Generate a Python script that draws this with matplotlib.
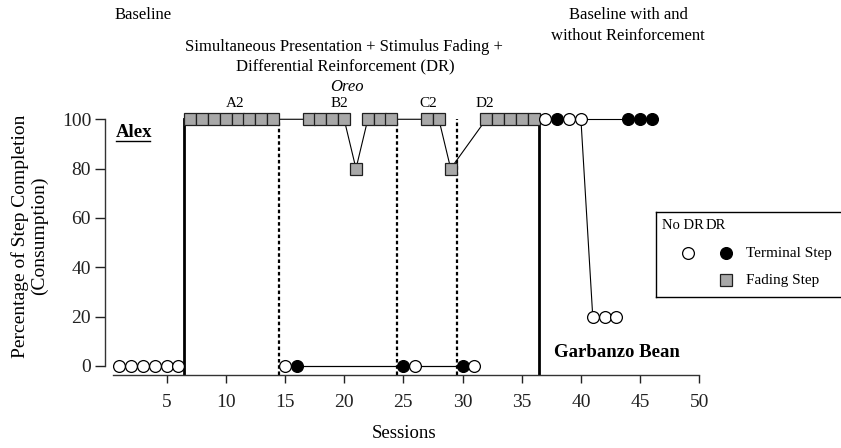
import matplotlib.pyplot as plt

plt.rcParams['font.family'] = ['Liberation Serif', 'DejaVu Serif']

# Datos (sesion, porcentaje)
linea_base_x = [1, 2, 3, 4, 5, 6]
linea_base_y = [0, 0, 0, 0, 0, 0]

desvanecimiento_x = [7, 8, 9, 10, 11, 12, 13, 14,
                     17, 18, 19, 20, 21, 22, 23, 24,
                     27, 28, 29,
                     32, 33, 34, 35, 36]
desvanecimiento_y = [100, 100, 100, 100, 100, 100, 100, 100,
                     100, 100, 100, 100, 80, 100, 100, 100,
                     100, 100, 80,
                     100, 100, 100, 100, 100]

terminal_sin_dr_x = [15, 26, 31]
terminal_sin_dr_y = [0, 0, 0]
terminal_dr_x = [16, 25, 30]
terminal_dr_y = [0, 0, 0]

final_sin_dr_x = [37, 39, 40, 41, 42, 43]
final_sin_dr_y = [100, 100, 100, 20, 20, 20]
final_dr_x = [38, 44, 45, 46]
final_dr_y = [100, 100, 100, 100]

cambios_fase = [6.5, 36.5]
cambios_subfase = [14.5, 24.5, 29.5]
subfases = ['A2', 'B2', 'C2', 'D2']
subfases_x = [10.8, 19.6, 27.1, 31.9]

W, H = 841, 448
fig = plt.figure(figsize=(W / 100, H / 100), dpi=100)
ax = fig.add_axes([105 / W, 73 / H, 594.3 / W, 265.6 / H])
ax.set_xlim(-0.2, 50)
ax.set_ylim(-3.65, 104)

# lineas de cambio de fase
for xf in cambios_fase:
    ax.plot([xf, xf], [-3.65, 100], color='black', lw=2.0, zorder=1)
for xf in cambios_subfase:
    ax.plot([xf, xf], [-3.65, 100], color='black', lw=1.6,
            linestyle=(0, (1.6, 1.2)), zorder=1)

ms = 8.5
mew = 0.9
ax.plot(linea_base_x, linea_base_y, color='black', lw=0.8, marker='o',
        ms=ms, mfc='white', mec='black', mew=mew, zorder=3, clip_on=False)
ax.plot(desvanecimiento_x, desvanecimiento_y, color='black', lw=0.8, marker='s',
        ms=ms, mfc='#a8a8a8', mec='#202020', mew=mew, zorder=3, clip_on=False)
ax.plot(terminal_dr_x, terminal_dr_y, color='black', lw=0.8, marker='o',
        ms=ms, mfc='black', mec='black', mew=mew, zorder=2, clip_on=False)
ax.plot(terminal_sin_dr_x, terminal_sin_dr_y, color='black', lw=0.8, marker='o',
        ms=ms, mfc='white', mec='black', mew=mew, zorder=3, clip_on=False)
ax.plot(final_dr_x, final_dr_y, color='black', lw=0.8, marker='o',
        ms=ms, mfc='black', mec='black', mew=mew, zorder=2, clip_on=False)
ax.plot(final_sin_dr_x, final_sin_dr_y, color='black', lw=0.8, marker='o',
        ms=ms, mfc='white', mec='black', mew=mew, zorder=3, clip_on=False)

# ejes
ax.spines['top'].set_visible(False)
ax.spines['right'].set_visible(False)
ax.spines['left'].set_bounds(0, 100)
ax.spines['bottom'].set_bounds(0.5, 50)
for s in ['left', 'bottom']:
    ax.spines[s].set_linewidth(1.0)
    ax.spines[s].set_color('#333333')
ax.set_xticks(range(5, 51, 5))
ax.set_yticks(range(0, 101, 20))
ax.tick_params(axis='x', direction='out', length=6, width=1.0, labelsize=14, pad=8, colors='#222222')
ax.tick_params(axis='y', direction='out', length=7, width=1.0, labelsize=14, pad=3, colors='#222222')

# textos
ax.text(3.0, 142.3, 'Baseline', fontsize=12, ha='center', va='center')
ax.text(20.0, 129.4, 'Simultaneous Presentation + Stimulus Fading +', fontsize=12,
        ha='center', va='center')
ax.text(20.1, 121.3, 'Differential Reinforcement (DR)', fontsize=12, ha='center', va='center')
ax.text(20.2, 113.1, 'Oreo', fontsize=12, style='italic', ha='center', va='center')
ax.text(44.0, 142.3, 'Baseline with and', fontsize=12, ha='center', va='center')
ax.text(44.0, 133.8, 'without Reinforcement', fontsize=12, ha='center', va='center')
for etiqueta, xs in zip(subfases, subfases_x):
    ax.text(xs, 106.2, etiqueta, fontsize=11, ha='center', va='center')
ax.text(0.7, 94.7, 'Alex', fontsize=13.5, fontweight='bold', ha='left', va='center')
ax.plot([0.7, 3.6], [91.3, 91.3], color='black', lw=1.0, clip_on=False)
ax.text(37.7, 5.4, 'Garbanzo Bean', fontsize=13.5, fontweight='bold', ha='left', va='center')

fig.text(403.7 / W, 1 - 433 / H, 'Sessions', fontsize=13.5, ha='center', va='center')
fig.text(30 / W, 1 - 236 / H, 'Percentage of Step Completion\n(Consumption)', fontsize=14,
         rotation=90, ha='center', va='center', multialignment='center', linespacing=1.15)

# leyenda dibujada a mano
ley = fig.add_axes([656 / W, (H - 297) / H, 190 / W, 85 / H])
ley.set_xlim(656, 846)
ley.set_ylim(297, 212)
ley.set_xticks([])
ley.set_yticks([])
for s in ley.spines.values():
    s.set_linewidth(1.0)
ley.text(662.5, 225, 'No DR', fontsize=10.5, ha='left', va='center')
ley.text(706, 225, 'DR', fontsize=10.5, ha='left', va='center')
ley.plot([687.7], [253], marker='o', ms=ms, mfc='white', mec='black', mew=mew)
ley.plot([726], [253], marker='o', ms=ms, mfc='black', mec='black', mew=mew)
ley.plot([726], [280], marker='s', ms=ms, mfc='#a8a8a8', mec='#202020', mew=mew)
ley.text(746, 253, 'Terminal Step', fontsize=11, ha='left', va='center')
ley.text(746, 280, 'Fading Step', fontsize=11, ha='left', va='center')

fig.savefig('out.png', dpi=100)
